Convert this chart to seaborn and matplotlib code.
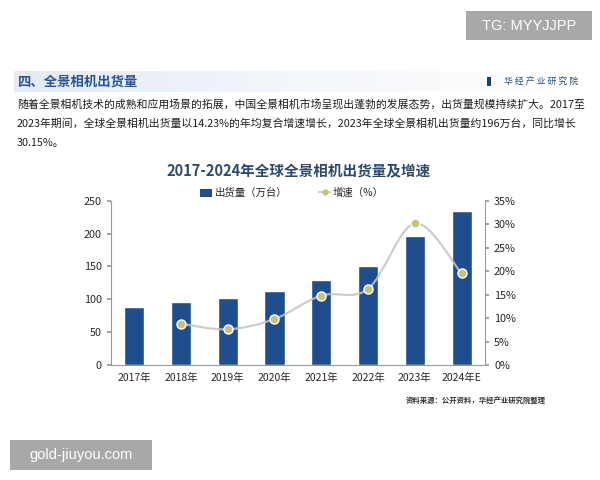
import numpy as np
import pandas as pd
import matplotlib
matplotlib.use("Agg")
import matplotlib.pyplot as plt
import seaborn as sns
from matplotlib.path import Path
from matplotlib.patches import PathPatch, Rectangle, Patch
from matplotlib.lines import Line2D

# 数据
years = ["2017年", "2018年", "2019年", "2020年", "2021年", "2022年", "2023年", "2024年E"]
shipments = [88, 96, 102, 112, 129, 150, 196, 234]          # 出货量（万台）
growth = [np.nan, 8.8, 7.6, 9.8, 14.8, 16.2, 30.15, 19.5]    # 增速（%）

sns.set_theme(style="white")
plt.rcParams["font.family"] = ["Noto Sans CJK SC", "DejaVu Sans"]

BAR = "#1f4e8f"
W, H = 600, 480

fig = plt.figure(figsize=(6, 4.8), dpi=100)
fig.patch.set_facecolor("white")


def fx(px):
    return px / W


def fy(py):
    return 1 - py / H


# 顶部水印框
fig.patches.append(Rectangle((fx(466), fy(40)), fx(126), 29 / H, transform=fig.transFigure,
                             facecolor="#a8a8a8", edgecolor="none"))
fig.text(fx(529), fy(25.5), "TG: MYYJJPP", color="white", fontsize=10.5,
         ha="center", va="center", family=["Liberation Sans", "DejaVu Sans"])

# 标题栏（渐变背景）
band = fig.add_axes([fx(14), fy(92), fx(571), 21 / H])
grad = np.linspace(0, 1, 256).reshape(1, -1)
band.imshow(grad, aspect="auto", cmap=matplotlib.colors.LinearSegmentedColormap.from_list(
    "g", ["#e3eaf4", "#f4f7fb", "#ffffff"]))
band.axis("off")
fig.text(fx(18), fy(81.5), "四、全景相机出货量", color="#285494", fontsize=9.6,
         fontweight="bold", ha="left", va="center")
fig.patches.append(Rectangle((fx(487), fy(86)), fx(4), 9 / H, transform=fig.transFigure,
                             facecolor="#1f3f6b", edgecolor="none"))
fig.text(fx(578), fy(81.5), "华 经 产 业 研 究 院", color="#2b4a70", fontsize=6.4,
         ha="right", va="center")

# 正文
para = [
    "随着全景相机技术的成熟和应用场景的拓展，中国全景相机市场呈现出蓬勃的发展态势，出货量规模持续扩大。2017至",
    "2023年期间，全球全景相机出货量以14.23%的年均复合增速增长，2023年全球全景相机出货量约196万台，同比增长",
    "30.15%。",
]
for i, line in enumerate(para):
    fig.text(fx(17), fy(104 + i * 19.5), line, fontsize=7.8, color="#1e1e1e",
             ha="left", va="center")

# 图表标题
fig.text(fx(299), fy(171), "2017-2024年全球全景相机出货量及增速", fontsize=10.5,
         fontweight="bold", color="#2d4a6c", ha="center", va="center")

# 主图
ax = fig.add_axes([fx(110.7), fy(365), fx(374.3), 164.3 / H])
df = pd.DataFrame({"year": years, "shipments": shipments})
sns.barplot(data=df, x="year", y="shipments", color=BAR, width=0.43,
            saturation=1, ax=ax, zorder=2)
ax.set_xlim(-0.5, len(years) - 0.5)
ax.set_ylim(0, 250)
ax.set_yticks(range(0, 251, 50))
ax.set_xlabel("")
ax.set_ylabel("")
ax.set_facecolor("none")
ax.set_xticks(np.arange(len(years)) + 0.5, minor=True)
ax.tick_params(axis="x", which="major", length=0, labelsize=7.5, pad=6)
ax.tick_params(axis="x", which="minor", length=3, color="#999999", direction="out")
ax.tick_params(axis="y", length=3, color="#999999", labelsize=7.8, direction="out")
for s in ["top", "right"]:
    ax.spines[s].set_visible(False)
for s in ["left", "bottom"]:
    ax.spines[s].set_color("#999999")
    ax.spines[s].set_linewidth(0.8)

ax2 = ax.twinx()
ax2.set_ylim(0, 35)
ax2.set_yticks(range(0, 36, 5))
ax2.set_yticklabels([f"{v}%" for v in range(0, 36, 5)])
ax2.tick_params(axis="y", length=3, color="#999999", labelsize=7.8, direction="out")
for s in ["top", "left", "bottom"]:
    ax2.spines[s].set_visible(False)
ax2.spines["right"].set_color("#999999")
ax2.spines["right"].set_linewidth(0.8)

# 平滑增速曲线（Catmull-Rom 转贝塞尔）
gx = [i for i, g in enumerate(growth) if not np.isnan(g)]
gy = [g for g in growth if not np.isnan(g)]
pts = np.column_stack([gx, gy])
verts = [tuple(pts[0])]
codes = [Path.MOVETO]
for i in range(len(pts) - 1):
    p0 = pts[max(i - 1, 0)]
    p1 = pts[i]
    p2 = pts[i + 1]
    p3 = pts[min(i + 2, len(pts) - 1)]
    c1 = p1 + (p2 - p0) / 6
    c2 = p2 - (p3 - p1) / 6
    verts += [tuple(c1), tuple(c2), tuple(p2)]
    codes += [Path.CURVE4] * 3
ax2.add_patch(PathPatch(Path(verts, codes), facecolor="none", edgecolor="#c4c4c4",
                        lw=1.6, alpha=0.85, zorder=3))
ax2.plot(gx, gy, ls="none", marker="o", ms=6.5, mfc="#c9c27a", mec="white",
         mew=1.0, zorder=4)

# 图例
handles = [Patch(facecolor=BAR, edgecolor="none"),
           Line2D([], [], color="#c4c4c4", lw=1.2, ls="--", marker="o", ms=3.5,
                  mfc="#c9c27a", mec="#c9c27a")]
fig.legend(handles, ["出货量（万台）", "增速（%）"], loc="center",
           bbox_to_anchor=(fx(292), fy(193)), ncol=2, frameon=False, fontsize=7.5,
           handlelength=1.2, handleheight=0.8, columnspacing=3.0, handletextpad=0.2)

# 资料来源
fig.text(fx(546), fy(400), "资料来源：公开资料，华经产业研究院整理", fontsize=5.3,
         fontweight="bold", color="#333333", ha="right", va="center")

# 底部水印框
fig.patches.append(Rectangle((fx(10), fy(470)), fx(142), 30 / H, transform=fig.transFigure,
                             facecolor="#a8a8a8", edgecolor="none"))
fig.text(fx(81), fy(455), "gold-jiuyou.com", color="white", fontsize=10.5,
         ha="center", va="center", family=["Liberation Sans", "DejaVu Sans"])

fig.savefig("out.png", dpi=100)
